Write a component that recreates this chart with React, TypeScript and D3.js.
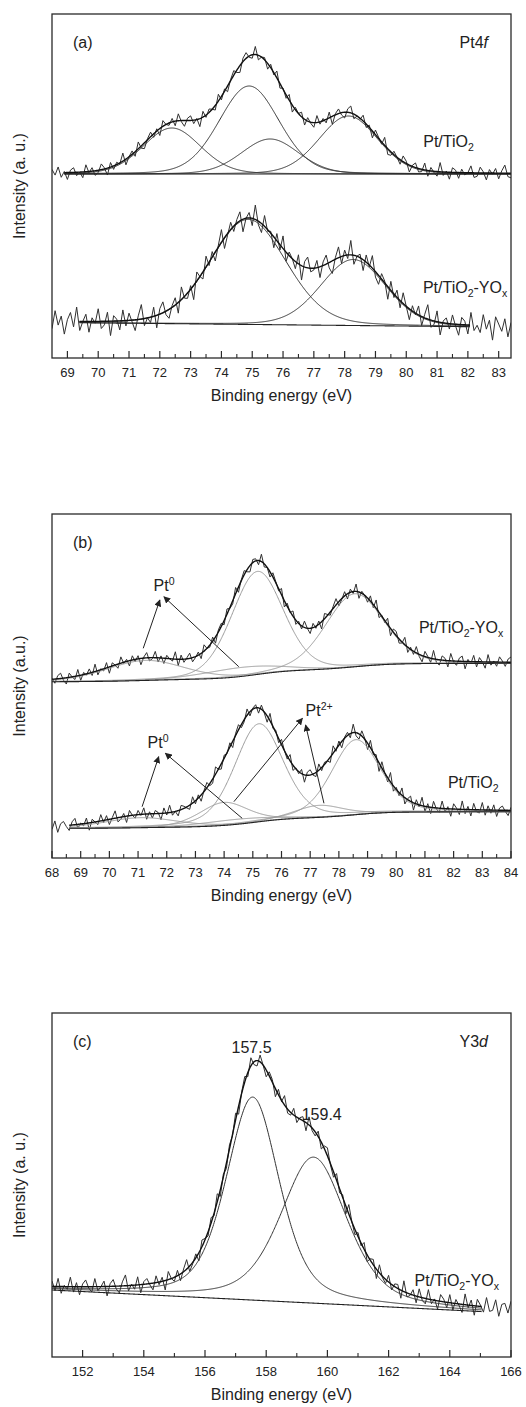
import React from "react";
import * as d3 from "d3";

const FONT = "'Liberation Sans', Arial, Helvetica, sans-serif";

// ---------- tick labels ----------
const aTickLabels = [69, 70, 71, 72, 73, 74, 75, 76, 77, 78, 79, 80, 81, 82, 83];
const bTickLabels = [68, 69, 70, 71, 72, 73, 74, 75, 76, 77, 78, 79, 80, 81, 82, 83, 84];
const cTickLabels = [152, 154, 156, 158, 160, 162, 164, 166];

// ---------- panel (a) : Pt/TiO2 ----------
const aTopCenters = [72.39, 74.9, 75.58, 78.12];
const aTopHeights = [46, 88, 35, 58];
const aTopFwhm = [2.2, 2.3, 2.2, 2.25];
const aTopBaseline = [[68.9, 184], [83.4, 184]];
const aTopNoise = [3,-2,5,-4,1,-6,2,4,-3,0,-5,6,-1,3,-4,-2,5,1,-6,4,-3,2,-1,7,-5,0,3,-4,6,-2,-5,1,4,-3,2,-6,5,0,-2,3,-4,6,-1,-5,2,4,-3,1,-7,5,-2,3,0,-4,6,-3,2,-5,1,4,-2,-6,3,5,-1,-3,7,-4,0,2,-5,3,-2,6,-4,1,-3,5,-6,2,0,4,-5,3,-1,-4,6,-2,2,-3,5,-7,1,4,-2,-5,3,6,-4,0,-1,5,-3,2,-6,4,1,-2,7,-5,-3,3,0,-4,5,2,-6,1,4,-3,-2,6,-5,3,-1,-4,8,-3,1,-6,4,2,-5,3,-2,0,6,-4,-3,5,1,-6,3,-1,4,-5,2,7,-3,-4,1,5,-6,2,3,-2];

// ---------- panel (a) : Pt/TiO2-YOx ----------
const aBotCenters = [74.87, 78.28];
const aBotHeights = [105, 66];
const aBotFwhm = [2.9, 2.5];
const aBotBaseline = [[69.39, 35.3], [82.07, 31.3]];
const aBotNoise = [-4,6,-2,3,-7,1,5,-3,8,-5,0,4,-6,2,-1,7,-4,-2,5,-8,3,1,-5,6,-3,4,-1,-6,2,8,-4,0,-3,5,-7,3,6,-2,-5,1,4,-6,7,-1,-3,2,-8,5,0,-4,6,-2,3,-5,1,7,-6,-1,4,-3,2,5,-7,0,3,-4,8,-2,-5,6,-1,1,-6,4,-3,7,-5,2,0,-4,5,-8,3,6,-2,-1,4,-6,2,5,-3,-7,1,6,-4,3,-2,8,-5,0,2,-6,4,-1,7,-3,-5,3,1,-7,5,-2,4,-4,6,0,-6,3,-1,5,-5,2,8,-4,-2,6,-7,1,3,-3,5,-1,-6,4,2,-5,7,-3,0,-4,6,-2,3,-8,5,1,-3,4,-6,2,7,-5,-1,3,-4,6,-2];

// ---------- panel (b) : Pt/TiO2-YOx ----------
const bTopCenters = [71.25, 74.6, 75.16, 78.55];
const bTopHeights = [20, 9, 103, 73];
const bTopFwhm = [3.2, 3.2, 2.12, 2.4];
const bTopShirley = [176.3, 194.7];
const bTopNoise = [1,-4,3,5,-2,-6,4,0,-3,6,-5,2,-1,4,-3,7,-4,1,-2,5,-6,3,0,-4,6,-1,2,-5,4,-2,3,-6,1,5,-3,-1,6,-4,2,-5,3,0,-2,7,-6,4,-3,1,5,-4,-1,3,-5,6,0,-2,4,-6,2,3,-4,5,-1,-3,6,-5,1,4,-2,-6,3,2,-4,7,-3,0,-5,4,1,-2,6,-6,3,-1,5,-4,2,-3,6,0,-5,4,-2,3,-7,5,1,-3,2,6,-4,-1,4,-5,3,-2,7,-6,2,0,-4,5,-3,8,-5,1,-2,6,-7,3,4,-4,-1,7,-5,2,-3,6,-2,-6,5,1,-4,8,-3,-5,4,2,-6,7,-1,-4,3,5,-7,2,-2,6,-5,4,0,-6,7,-3,1,-4,5];

// ---------- panel (b) : Pt/TiO2 ----------
const bBotCenters = [71.1, 74.4, 73.99, 75.21, 77.31, 78.59];
const bBotHeights = [10, 5, 23, 98, 12, 75];
const bBotFwhm = [3.0, 3.0, 2.0, 2.0, 2.0, 2.0];
const bBotShirley = [29.7, 46.3];
const bBotNoise = [-3,5,-6,2,4,-1,-5,3,6,-4,1,-2,5,-7,3,0,-3,6,-2,4,-5,1,7,-4,-2,3,-6,5,0,-3,4,-1,6,-5,2,-4,3,1,-6,5,-2,7,-3,0,-5,4,2,-1,-4,6,-3,3,-6,1,5,-2,-4,7,0,-5,3,-1,4,-6,2,5,-3,-2,6,-4,1,3,-5,4,-1,-6,7,-2,2,-4,5,0,-3,6,-5,1,-2,4,-7,3,5,-1,-4,6,-3,2,0,-5,7,-2,4,-6,1,3,-4,8,-3,-5,5,1,-6,7,-2,3,-8,6,0,-4,9,-5,2,-3,7,-6,1,5,-7,4,-2,8,-5,3,-6,6,-1,-4,7,-3,2,-7,5,1,-5,8,-4,3,-6,6,-2,-3,7,-5,4];
const bArrows = [
  [71.18, 209.7, 71.76, 258],
  [74.51, 191.3, 71.9, 261.3],
  [71.14, 51.3, 71.72, 101.3],
  [74.63, 39.7, 71.95, 104.7],
  [74.34, 56.3, 76.73, 139.7],
  [77.48, 54.7, 76.84, 133],
];

// ---------- panel (c) : Y3d ----------
const cCenters = [157.56, 159.55];
const cHeights = [203, 146];
const cFwhm = [2.05, 2.55];
const cBaseline = [[151, 67], [165.05, 45.4]];
const cNoise = [4,-3,6,-5,1,-2,7,-4,3,-6,2,5,-1,-4,6,-3,0,4,-7,2,5,-2,-5,3,8,-4,1,-3,6,-6,2,4,-1,-5,5,-2,3,-7,6,0,-3,4,-5,2,7,-4,-1,3,-6,5,1,-3,4,-2,6,-5,2,-4,3,-1,5,-6,1,4,-3,6,-2,-4,5,0,-5,3,2,-6,4,-1,7,-3,-2,5,-4,1,3,-6,6,-2,-3,4,-5,2,6,-1,-4,5,-3,2,-6,7,0,-4,3,-2,5,-5,1,4,-7,6,-1,-3,5,-4,2,3,-6,8,-3,-1,4,-5,6,-2,-4,7,-3,1,-6,5,2,-4,6,-5,3,-1,-6,8,-2,4,-7,5,1,-4,7,-3,-2,6,-6,3];

// ---------- helpers ----------
type Pt = [number, number];
type Part = { t: string; sub?: boolean; sup?: boolean; it?: boolean };
type Label = { x: number; y: number; parts: Part[]; anchor?: string };
type Spectrum = {
  centers: number[]; heights: number[]; fwhm: number[]; eta: number;
  fit: [number, number]; raw: [number, number];
  linear?: number[][]; shirley?: number[];
  noise: number[]; noiseScale: number; compColor: string;
};

function pv(x: number, c: number, h: number, w: number, eta: number) {
  const d = (x - c) / w;
  const g = Math.exp(-4 * Math.LN2 * d * d);
  const l = 1 / (1 + 4 * d * d);
  return h * ((1 - eta) * g + eta * l);
}

function buildSpectrum(s: Spectrum) {
  const sum = (x: number) =>
    s.centers.reduce((a, c, i) => a + pv(x, c, s.heights[i], s.fwhm[i], s.eta), 0);
  let base: (x: number) => number;
  if (s.linear) {
    const [[x0, y0], [x1, y1]] = s.linear;
    base = (x) => y0 + ((y1 - y0) * (x - x0)) / (x1 - x0);
  } else {
    const st = 0.01;
    const grid = d3.range(s.fit[0], s.fit[1] + 1e-9, st);
    const cum: number[] = [];
    let acc = 0;
    grid.forEach((x, i) => {
      if (i > 0) acc += ((sum(x) + sum(grid[i - 1])) / 2) * st;
      cum.push(acc);
    });
    const [lo, hi] = s.shirley as number[];
    base = (x) => {
      if (x <= s.fit[0]) return lo;
      if (x >= s.fit[1]) return hi;
      const i = Math.min(grid.length - 1, Math.round((x - s.fit[0]) / st));
      return lo + ((hi - lo) * cum[i]) / acc;
    };
  }
  const fitX = d3.range(s.fit[0], s.fit[1] + 1e-9, 0.02);
  const comps = s.centers.map((c, i) =>
    fitX.map((x) => [x, base(x) + pv(x, c, s.heights[i], s.fwhm[i], s.eta)] as Pt)
  );
  const env = fitX.map((x) => [x, base(x) + sum(x)] as Pt);
  const bl = fitX.map((x) => [x, base(x)] as Pt);
  const rawX = d3.range(s.raw[0], s.raw[1] + 1e-9, 0.1);
  const raw = rawX.map(
    (x, i) => [x, base(x) + sum(x) + s.noise[i % s.noise.length] * s.noiseScale] as Pt
  );
  return { comps, env, bl, raw };
}

const LEFT = 52;
const RIGHT = 511;

type PanelProps = {
  top: number; bottom: number; domain: [number, number];
  majors: number[]; minors: number[];
  tag: string; title: Part[]; yLabel: string;
  spectra: Spectrum[]; labels: Label[]; arrows?: number[][];
};

function RichText({ x, y, parts, anchor = "start", size = 16 }: any) {
  const nodes: any[] = [];
  let shift = 0;
  parts.forEach((p: Part, i: number) => {
    const target = p.sub ? 4 : p.sup ? -6 : 0;
    const dy = target - shift;
    shift = target;
    nodes.push(
      <tspan key={i} dy={dy} fontSize={p.sub || p.sup ? size * 0.66 : size}
        fontStyle={p.it ? "italic" : "normal"}>{p.t}</tspan>
    );
  });
  return (
    <text x={x} y={y} textAnchor={anchor} fontFamily={FONT} fontSize={size} fill="#222">
      {nodes}
    </text>
  );
}

function Panel(p: PanelProps) {
  const x = d3.scaleLinear().domain(p.domain).range([LEFT, RIGHT]);
  const y = d3.scaleLinear().domain([0, p.bottom - p.top]).range([p.bottom, p.top]);
  const line = d3.line<Pt>().x((d) => x(d[0])).y((d) => y(d[1]));
  const built = p.spectra.map(buildSpectrum);
  const clipId = "clip" + p.top;
  return (
    <g>
      <defs>
        <clipPath id={clipId}>
          <rect x={LEFT} y={p.top} width={RIGHT - LEFT} height={p.bottom - p.top} />
        </clipPath>
      </defs>
      <g clipPath={`url(#${clipId})`}>
        {built.map((b, k) => (
          <g key={k}>
            <path d={line(b.raw) || ""} fill="none" stroke="#303030" strokeWidth={1} />
            {b.comps.map((c, i) => (
              <path key={i} d={line(c) || ""} fill="none" stroke={p.spectra[k].compColor} strokeWidth={1} />
            ))}
            <path d={line(b.bl) || ""} fill="none" stroke="#222" strokeWidth={1.1} />
            <path d={line(b.env) || ""} fill="none" stroke="#111" strokeWidth={1.4} />
          </g>
        ))}
      </g>
      <rect x={LEFT} y={p.top} width={RIGHT - LEFT} height={p.bottom - p.top}
        fill="none" stroke="#2a2a2a" strokeWidth={1.3} />
      {p.majors.map((t) => (
        <g key={"M" + t}>
          <line x1={x(t)} x2={x(t)} y1={p.bottom} y2={p.bottom - 7} stroke="#2a2a2a" strokeWidth={1.2} />
          <text x={x(t)} y={p.bottom + 19} textAnchor="middle" fontFamily={FONT} fontSize={13} fill="#222">{t}</text>
        </g>
      ))}
      {p.minors.map((t) => (
        <line key={"m" + t} x1={x(t)} x2={x(t)} y1={p.bottom} y2={p.bottom - 4} stroke="#2a2a2a" strokeWidth={1.1} />
      ))}
      <text x={(LEFT + RIGHT) / 2} y={p.bottom + 43} textAnchor="middle" fontFamily={FONT} fontSize={16} fill="#222">
        Binding energy (eV)
      </text>
      <text transform={`translate(25,${(p.top + p.bottom) / 2}) rotate(-90)`} textAnchor="middle"
        fontFamily={FONT} fontSize={16} fill="#222">{p.yLabel}</text>
      <text x={LEFT + 21} y={p.top + 34} fontFamily={FONT} fontSize={16} fill="#222">{p.tag}</text>
      <RichText x={RIGHT - 23} y={p.top + 34} parts={p.title} anchor="end" />
      {p.labels.map((l, i) => (
        <RichText key={i} x={x(l.x)} y={y(l.y)} parts={l.parts} anchor={l.anchor || "start"} />
      ))}
      {(p.arrows || []).map((a, i) => (
        <line key={i} x1={x(a[0])} y1={y(a[1])} x2={x(a[2])} y2={y(a[3])}
          stroke="#222" strokeWidth={1} markerEnd="url(#arrowHead)" />
      ))}
    </g>
  );
}

const PT_TIO2: Part[] = [{ t: "Pt/TiO" }, { t: "2", sub: true }];
const PT_TIO2_YOX: Part[] = [{ t: "Pt/TiO" }, { t: "2", sub: true }, { t: "-YO" }, { t: "x", sub: true }];

export default function App() {
  const aSpectra: Spectrum[] = [
    { centers: aTopCenters, heights: aTopHeights, fwhm: aTopFwhm, eta: 0.15, fit: [68.9, 83.4], raw: [68.5, 83.4],
      linear: aTopBaseline, noise: aTopNoise, noiseScale: 1.15, compColor: "#333" },
    { centers: aBotCenters, heights: aBotHeights, fwhm: aBotFwhm, eta: 0.15, fit: [69.39, 82.07], raw: [68.5, 83.4],
      linear: aBotBaseline, noise: aBotNoise, noiseScale: 1.8, compColor: "#333" },
  ];
  const bSpectra: Spectrum[] = [
    { centers: bTopCenters, heights: bTopHeights, fwhm: bTopFwhm, eta: 0.2, fit: [68.0, 84.0], raw: [68.0, 84.0],
      shirley: bTopShirley, noise: bTopNoise, noiseScale: 1.05, compColor: "#9a9a9a" },
    { centers: bBotCenters, heights: bBotHeights, fwhm: bBotFwhm, eta: 0.3, fit: [68.6, 84.0], raw: [68.0, 84.0],
      shirley: bBotShirley, noise: bBotNoise, noiseScale: 1.05, compColor: "#9a9a9a" },
  ];
  const cSpectra: Spectrum[] = [
    { centers: cCenters, heights: cHeights, fwhm: cFwhm, eta: 0.45, fit: [151, 165.05], raw: [151, 166],
      linear: cBaseline, noise: cNoise, noiseScale: 1.35, compColor: "#333" },
  ];
  return (
    <svg width={526} height={1407} style={{ position: "absolute", left: 0, top: 0, background: "#fff" }}>
      <defs>
        <marker id="arrowHead" viewBox="0 0 10 10" refX="9" refY="5" markerWidth="7" markerHeight="7"
          orient="auto" markerUnits="userSpaceOnUse">
          <path d="M0,0 L10,5 L0,10 z" fill="#222" />
        </marker>
      </defs>
      <rect width={526} height={1407} fill="#fff" />
      <Panel top={14} bottom={358} domain={[68.5, 83.4]} majors={aTickLabels}
        minors={d3.range(69.5, 83.4, 1)} tag="(a)" title={[{ t: "Pt4" }, { t: "f", it: true }]}
        yLabel="Intensity (a. u.)" spectra={aSpectra}
        labels={[
          { x: 80.55, y: 211, parts: PT_TIO2 },
          { x: 80.54, y: 65, parts: PT_TIO2_YOX },
        ]} />
      <Panel top={514} bottom={858} domain={[68, 84]} majors={bTickLabels}
        minors={d3.range(68.5, 84, 1)} tag="(b)" title={[]}
        yLabel="Intensity (a.u.)" spectra={bSpectra}
        labels={[
          { x: 80.79, y: 225, parts: PT_TIO2_YOX },
          { x: 81.8, y: 70, parts: PT_TIO2 },
          { x: 71.54, y: 267, parts: [{ t: "Pt" }, { t: "0", sup: true }] },
          { x: 71.33, y: 110, parts: [{ t: "Pt" }, { t: "0", sup: true }] },
          { x: 76.84, y: 142, parts: [{ t: "Pt" }, { t: "2+", sup: true }] },
        ]}
        arrows={bArrows} />
      <Panel top={1013} bottom={1357} domain={[151, 166]} majors={cTickLabels}
        minors={d3.range(153, 166, 2)} tag="(c)" title={[{ t: "Y3" }, { t: "d", it: true }]}
        yLabel="Intensity (a. u.)" spectra={cSpectra}
        labels={[
          { x: 157.52, y: 304, parts: [{ t: "157.5" }], anchor: "middle" },
          { x: 159.16, y: 237, parts: [{ t: "159.4" }] },
          { x: 162.85, y: 71, parts: PT_TIO2_YOX },
        ]} />
    </svg>
  );
}
